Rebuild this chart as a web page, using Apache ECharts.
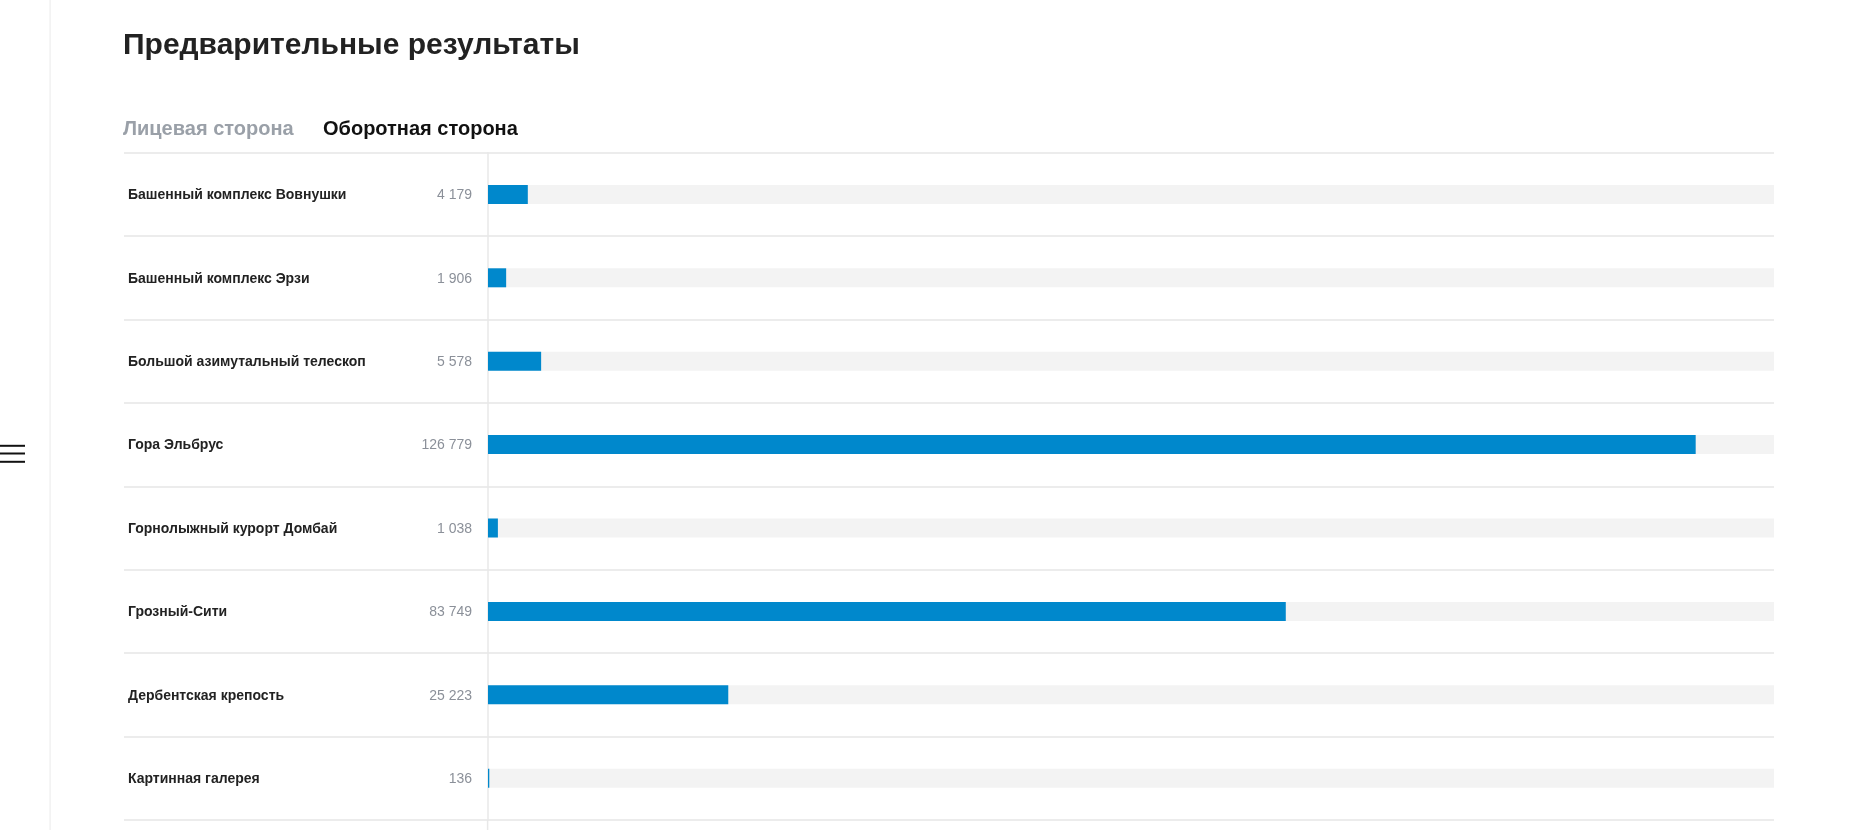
<!DOCTYPE html>
<html>
<head>
<meta charset="utf-8">
<script src="https://cdn.jsdelivr.net/npm/echarts@6/dist/echarts.min.js"></script>
<style>
  html, body { margin: 0; padding: 0; background: #fff; }
  #chart { width: 1856px; height: 830px; }
</style>
</head>
<body>
<div id="chart"></div>
<script>
const titleText = 'Предварительные результаты';
const tabLabels = ['Лицевая сторона', 'Оборотная сторона'];
const categories = [
  'Башенный комплекс Вовнушки',
  'Башенный комплекс Эрзи',
  'Большой азимутальный телескоп',
  'Гора Эльбрус',
  'Горнолыжный курорт Домбай',
  'Грозный-Сити',
  'Дербентская крепость',
  'Картинная галерея'
];
const values = [4179, 1906, 5578, 126779, 1038, 83749, 25223, 136];
const axisMax = 135000;

function fmt(v) {
  return String(v).replace(/\B(?=(\d{3})+(?!\d))/g, ' ');
}

const FONT = '"Liberation Sans", Arial, sans-serif';
const TOP = 152.7;
const ROWS_H = 667.2;

const chart = echarts.init(document.getElementById('chart'), null, { renderer: 'canvas' });
chart.setOption({
  animation: false,
  backgroundColor: '#ffffff',
  textStyle: { fontFamily: FONT },
  title: {
    text: titleText,
    left: 123,
    top: 31,
    padding: 0,
    textStyle: { fontFamily: FONT, fontSize: 30, fontWeight: 'bold', color: '#222222' }
  },
  grid: [
    { left: 124, right: 82, top: TOP, height: ROWS_H, containLabel: false },
    { left: 488, right: 82, top: TOP, height: ROWS_H, containLabel: false }
  ],
  xAxis: [
    { gridIndex: 0, type: 'value', show: false },
    { gridIndex: 1, type: 'value', min: 0, max: axisMax, show: false }
  ],
  yAxis: [
    {
      gridIndex: 0, type: 'category', data: categories, inverse: true,
      axisLine: { show: false }, axisTick: { show: false }, axisLabel: { show: false },
      splitLine: { show: true, showMinLine: true, showMaxLine: true, lineStyle: { color: '#e6e6e6', width: 1.5 } }
    },
    {
      gridIndex: 1, type: 'category', data: categories, inverse: true,
      axisLine: { show: true, lineStyle: { color: '#e8e8e8', width: 1.5 } },
      axisTick: { show: false },
      splitLine: { show: false },
      axisLabel: {
        margin: 16,
        padding: [2, 0, 0, 0],
        formatter: function (val, idx) {
          return '{n|' + val + '}{v|' + fmt(values[idx]) + '}';
        },
        rich: {
          n: { width: 260, align: 'left', fontSize: 14, fontWeight: 'bold', color: '#222222', fontFamily: FONT },
          v: { width: 84, align: 'right', fontSize: 14, color: '#8b9099', fontFamily: FONT }
        }
      }
    }
  ],
  series: [
    {
      type: 'bar',
      xAxisIndex: 1, yAxisIndex: 1,
      data: values,
      barWidth: 19,
      itemStyle: { color: '#0088cc' },
      showBackground: true,
      backgroundStyle: { color: '#f3f3f3' },
      silent: true
    }
  ],
  graphic: [
    { type: 'text', left: 123, top: 119, style: { text: tabLabels[0], font: 'bold 20px ' + FONT, fill: '#9aa0a8' } },
    { type: 'text', left: 323, top: 119, style: { text: tabLabels[1], font: 'bold 20px ' + FONT, fill: '#111111' } },
    { type: 'rect', shape: { x: 49.5, y: 0, width: 1.2, height: 830 }, style: { fill: '#eeeeee' } },
    { type: 'line', shape: { x1: 487.6, y1: TOP + ROWS_H, x2: 487.6, y2: 830 }, style: { stroke: '#e8e8e8', lineWidth: 1.5 } },
    { type: 'rect', shape: { x: 0, y: 444.8, width: 25, height: 2 }, style: { fill: '#111111' } },
    { type: 'rect', shape: { x: 0, y: 452.5, width: 25, height: 2 }, style: { fill: '#111111' } },
    { type: 'rect', shape: { x: 0, y: 460.8, width: 25, height: 2 }, style: { fill: '#111111' } }
  ]
});
</script>
</body>
</html>
